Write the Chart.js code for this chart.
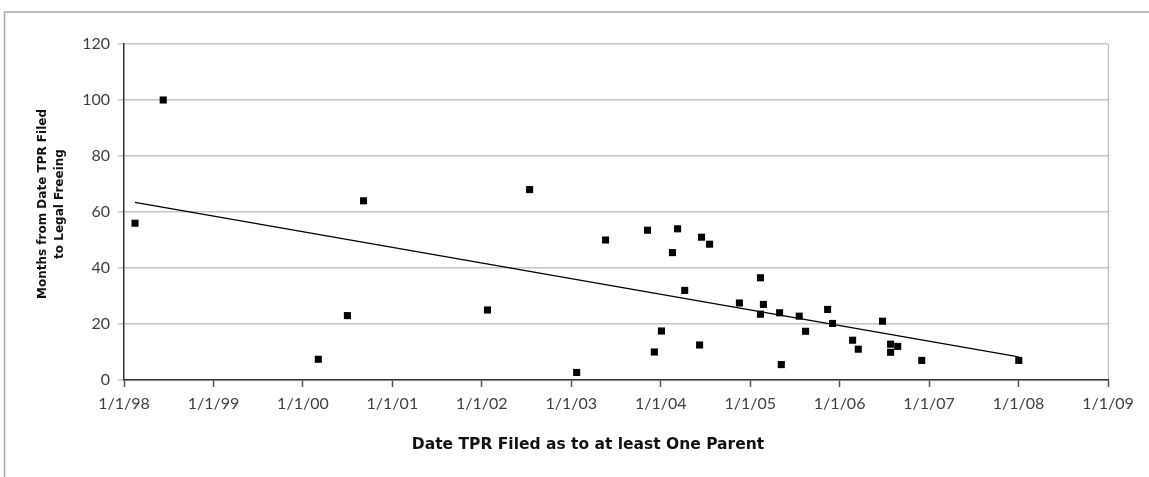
<!DOCTYPE html>
<html>
<head>
<meta charset="utf-8">
<script src="https://cdn.jsdelivr.net/npm/chart.js@4"></script>
<style>
  html, body { margin: 0; padding: 0; background: #fff; }
  #wrap { width: 1149px; height: 477px; position: relative; }
</style>
</head>
<body>
<div id="wrap"><canvas id="tprChart"></canvas></div>
<script>
// date the TPR petition was filed (as to at least one parent)
const filedDates = [
  '1998-02-15', '1998-06-10', '2000-03-04', '2000-07-01', '2000-09-05',
  '2002-01-24', '2002-07-15', '2003-01-23', '2003-05-21', '2003-11-08',
  '2003-12-06', '2004-01-04', '2004-02-18', '2004-03-10', '2004-04-08',
  '2004-06-08', '2004-06-16', '2004-07-19', '2004-11-18', '2005-02-12',
  '2005-02-12', '2005-02-24', '2005-05-01', '2005-05-08', '2005-07-20',
  '2005-08-15', '2005-11-13', '2005-12-03', '2006-02-23', '2006-03-18',
  '2006-06-25', '2006-07-28', '2006-07-28', '2006-08-26', '2006-12-02',
  '2008-01-02'
];
// months from TPR filing until the child was legally freed
const monthsToFreeing = [
  56, 100, 7.4, 23, 64,
  25, 68, 2.7, 50, 53.5,
  10, 17.5, 45.5, 54, 32,
  12.5, 51, 48.5, 27.5, 36.5,
  23.5, 27, 24, 5.5, 22.8,
  17.4, 25.2, 20.2, 14.2, 11,
  21, 12.8, 9.9, 12, 7,
  7
];
const xTickLabels = ['1/1/98', '1/1/99', '1/1/00', '1/1/01', '1/1/02', '1/1/03',
  '1/1/04', '1/1/05', '1/1/06', '1/1/07', '1/1/08', '1/1/09'];
const yTickValues = [0, 20, 40, 60, 80, 100, 120];

const firstYear = 1998;

// calendar date -> fractional year so the x axis can stay linear
function toYear(iso) {
  const d = new Date(iso + 'T00:00:00Z');
  const y = d.getUTCFullYear();
  const start = Date.UTC(y, 0, 1), end = Date.UTC(y + 1, 0, 1);
  return y + (d - start) / (end - start);
}

const points = filedDates.map((d, i) => ({ x: toYear(d), y: monthsToFreeing[i] }));

// least squares trend across the filings
function trendLine(pts) {
  const n = pts.length;
  const mx = pts.reduce((s, p) => s + p.x, 0) / n;
  const my = pts.reduce((s, p) => s + p.y, 0) / n;
  let sxy = 0, sxx = 0;
  pts.forEach(p => { sxy += (p.x - mx) * (p.y - my); sxx += (p.x - mx) * (p.x - mx); });
  const slope = sxy / sxx;
  const xs = pts.map(p => p.x);
  const x0 = Math.min(...xs), x1 = Math.max(...xs);
  return [
    { x: x0, y: my + slope * (x0 - mx) },
    { x: x1, y: my + slope * (x1 - mx) }
  ];
}

const framePlugin = {
  id: 'frame',
  beforeDraw(chart) {
    const ctx = chart.ctx;
    const a = chart.chartArea;
    ctx.save();
    // outer chart border (top and left edges)
    ctx.strokeStyle = '#a6a6a6';
    ctx.lineWidth = 1.5;
    ctx.beginPath();
    ctx.moveTo(4.5, chart.height);
    ctx.lineTo(4.5, 12);
    ctx.lineTo(chart.width, 12);
    ctx.stroke();
    // right edge of the plot area
    ctx.strokeStyle = '#bdbdbd';
    ctx.lineWidth = 1.2;
    ctx.beginPath();
    ctx.moveTo(a.right + 0.5, a.top);
    ctx.lineTo(a.right + 0.5, a.bottom + 7);
    ctx.stroke();
    ctx.restore();
  },
  afterDraw(chart) {
    const ctx = chart.ctx;
    ctx.save();
    ctx.fillStyle = '#111';
    ctx.textAlign = 'center';
    ctx.textBaseline = 'middle';
    ctx.font = 'bold 15.5px "DejaVu Sans", sans-serif';
    ctx.fillText('Date TPR Filed as to at least One Parent', 588, 445);
    ctx.font = 'bold 12px "DejaVu Sans", sans-serif';
    ctx.translate(51, 204);
    ctx.rotate(-Math.PI / 2);
    ctx.fillText('Months from Date TPR Filed', 0, -8);
    ctx.fillText('to Legal Freeing', 0, 8.5);
    ctx.restore();
  }
};

new Chart(document.getElementById('tprChart').getContext('2d'), {
  type: 'scatter',
  data: {
    datasets: [
      {
        label: 'Filings',
        data: points,
        pointStyle: 'rect',
        pointRadius: 5,
        pointHoverRadius: 5,
        backgroundColor: '#000',
        borderWidth: 0
      },
      {
        label: 'Trend',
        data: trendLine(points),
        showLine: true,
        borderColor: '#000',
        borderWidth: 1.3,
        pointRadius: 0,
        pointHoverRadius: 0
      }
    ]
  },
  options: {
    responsive: true,
    maintainAspectRatio: false,
    animation: false,
    events: [],
    layout: { padding: { top: 44, right: 41, left: 0, bottom: 0 } },
    plugins: { legend: { display: false }, tooltip: { enabled: false } },
    scales: {
      x: {
        type: 'linear',
        min: firstYear,
        max: firstYear + xTickLabels.length - 1,
        afterFit: s => { s.height = 97; },
        afterBuildTicks: s => { s.ticks = xTickLabels.map((_, i) => ({ value: firstYear + i })); },
        ticks: {
          padding: 7,
          maxRotation: 0,
          color: '#404040',
          font: { family: 'Lato', size: 16 },
          callback: v => xTickLabels[Math.round(v) - firstYear]
        },
        grid: { drawOnChartArea: false, drawTicks: true, tickLength: 7, tickColor: '#555', tickWidth: 1.5 },
        border: { color: '#333', width: 1.5 }
      },
      y: {
        min: 0,
        max: 120,
        afterFit: s => { s.width = 124; },
        afterBuildTicks: s => { s.ticks = yTickValues.map(v => ({ value: v })); },
        ticks: {
          padding: 8,
          color: '#404040',
          font: { family: 'Lato', size: 16 }
        },
        grid: { color: '#c6c6c6', lineWidth: 1.5, tickLength: 6 },
        border: { color: '#333', width: 1.5 }
      }
    }
  },
  plugins: [framePlugin]
});
</script>
</body>
</html>
